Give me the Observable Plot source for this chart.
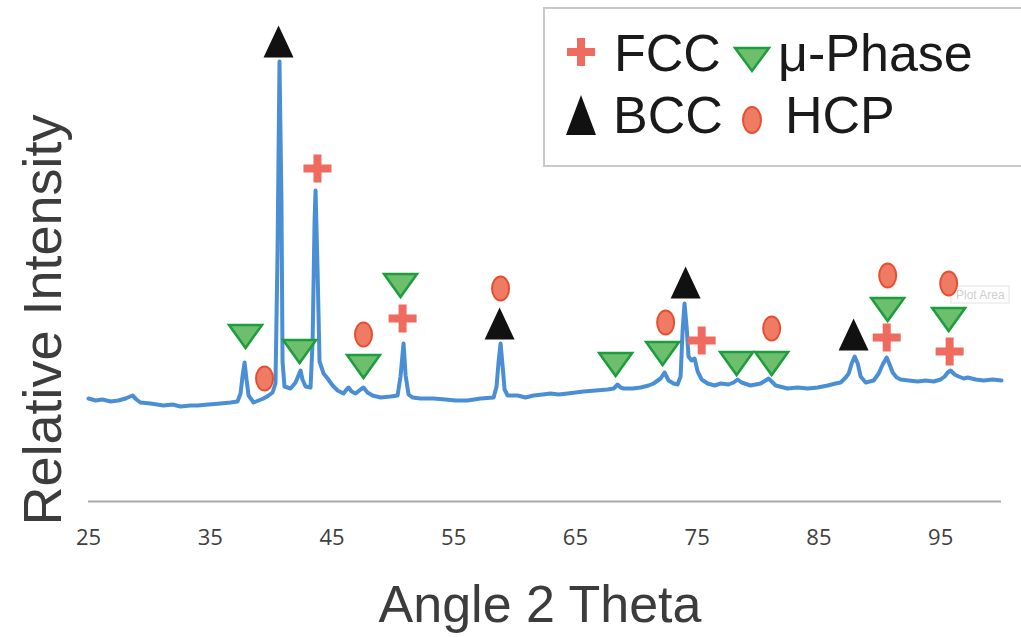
<!DOCTYPE html>
<html><head><meta charset="utf-8">
<script src="https://cdn.jsdelivr.net/npm/d3@7"></script>
<script src="https://cdn.jsdelivr.net/npm/@observablehq/plot@0.6"></script>
<style>
body{margin:0;background:#fff;overflow:hidden}
#wrap{position:relative;width:1021px;height:637px;overflow:hidden}
#wrap svg{position:absolute;left:0;top:0}
</style>
</head><body><div id="wrap"></div>
<script>
// ---- data: XRD pattern (angle 2θ, relative intensity a.u.) ----
const angle = [25.00,25.58,26.15,26.81,27.46,28.04,28.62,28.94,29.27,30.09,31.16,31.90,32.56,33.38,33.96,34.86,35.85,36.67,37.24,37.49,37.65,37.82,37.98,38.15,38.56,38.97,39.38,39.79,40.12,40.36,40.53,40.69,40.85,40.94,41.10,41.60,42.01,42.25,42.42,42.58,42.83,43.24,43.41,43.57,43.65,43.82,43.98,44.31,44.64,45.05,45.46,45.95,46.20,46.36,46.61,46.94,47.35,47.59,47.92,48.33,48.99,49.81,50.39,50.63,50.88,51.05,51.29,51.62,52.28,53.35,54.33,55.15,56.14,57.21,58.28,58.52,58.69,58.85,59.02,59.18,59.43,60.25,60.90,61.56,62.30,62.96,63.62,64.36,65.01,65.67,66.66,67.64,68.14,68.46,68.71,68.96,69.70,70.35,71.01,71.42,72.00,72.32,72.65,73.06,73.39,73.64,73.80,73.96,74.13,74.29,74.54,74.79,75.04,75.37,75.86,76.43,76.93,77.58,77.99,78.32,78.65,79.39,80.21,80.62,80.87,81.12,81.45,82.43,83.25,84.08,84.90,85.72,86.38,86.79,87.20,87.45,87.69,87.94,88.19,88.43,88.84,89.17,89.50,89.91,90.24,90.57,90.81,91.06,91.39,91.72,92.37,93.11,93.77,94.43,95.00,95.33,95.58,95.82,96.15,96.48,96.89,97.22,97.88,98.54,99.27,100.00];
const intensity = [103,101,102,100,101,103,106,102,99,98,96,97,95,96,96,97,98,99,100,108,125,139,122,106,99,101,103,106,109,118,250,440,300,140,115,113,119,126,131,122,115,114,160,280,311,230,140,128,123,116,111,108,112,114,110,108,112,114,109,106,104,105,106,125,158,126,107,104,103,103,102,101,101,103,104,115,140,158,135,112,106,106,104,106,107,108,107,108,109,110,111,112,113,117,114,113,113,114,116,118,123,129,121,118,117,125,170,198,175,145,141,143,130,122,118,116,118,117,119,122,119,116,118,121,123,120,116,113,114,113,114,116,118,119,124,128,138,145,138,125,119,120,121,128,137,144,137,129,124,122,121,120,121,120,122,125,129,131,127,125,123,124,122,121,122,121];

const xTicks = [25,35,45,55,65,75,85,95];
const phases = ["FCC", "μ-Phase", "BCC", "HCP"];

// peak markers (angle, height of marker)
const fccAngle = [43.81,50.80,75.37,90.57,95.74];
const fccHeight = [333,183,161,164,150];
const muAngle = [37.90,42.34,47.59,50.63,68.30,72.16,78.24,81.12,90.65,95.66];
const muHeight = [165,150,135,216,137,148,138,138,192,182];
const bccAngle = [40.61,58.77,74.05,87.85];
const bccHeight = [460,178,219,167];
const hcpAngle = [39.46,47.59,58.85,72.41,81.12,90.65,95.66];
const hcpHeight = [123,167,213,179,173,226,218];

// ---- symbols ----
const triUp = (w,h) => ({draw(c){c.moveTo(0,-h/2);c.lineTo(w/2,h/2);c.lineTo(-w/2,h/2);c.closePath();}});
const triDown = (w,h) => ({draw(c){c.moveTo(-w/2,-h/2);c.lineTo(w/2,-h/2);c.lineTo(0,h/2);c.closePath();}});
const plusSym = (s,t) => ({draw(c){const a=s/2,b=t/2;
  c.moveTo(-b,-a);c.lineTo(b,-a);c.lineTo(b,-b);c.lineTo(a,-b);c.lineTo(a,b);c.lineTo(b,b);
  c.lineTo(b,a);c.lineTo(-b,a);c.lineTo(-b,b);c.lineTo(-a,b);c.lineTo(-a,-b);c.lineTo(-b,-b);c.closePath();}});
const ellSym = (rx,ry) => ({draw(c){const k=0.5523;
  c.moveTo(rx,0);
  c.bezierCurveTo(rx,ry*k,rx*k,ry,0,ry);
  c.bezierCurveTo(-rx*k,ry,-rx,ry*k,-rx,0);
  c.bezierCurveTo(-rx,-ry*k,-rx*k,-ry,0,-ry);
  c.bezierCurveTo(rx*k,-ry,rx,-ry*k,rx,0);c.closePath();}});

const style = {
  "FCC":     {fill:"#ef6a5f", stroke:"none", sw:0},
  "μ-Phase": {fill:"#6dbf6d", stroke:"#1d9d3d", sw:2.5},
  "BCC":     {fill:"#111111", stroke:"none", sw:0},
  "HCP":     {fill:"#f07b65", stroke:"#e54f2f", sw:2}
};

const pattern = angle.map((a,i)=>({angle:a, intensity:intensity[i]}));
const pts = (xs,ys) => xs.map((x,i)=>({angle:x, h:ys[i]}));

const chart = Plot.plot({
  width: 1021, height: 637,
  marginLeft: 88, marginRight: 20, marginTop: 0, marginBottom: 136,
  style: {background:"transparent", fontFamily:"'Open Sans', sans-serif"},
  x: {domain:[25,100]},
  y: {domain:[0,501], axis:null},
  marks: [
    Plot.ruleY([0], {stroke:"#a7a7ad", strokeWidth:2}),
    Plot.axisX({ticks:xTicks, tickSize:0, tickPadding:28, fontSize:22, fill:"#404040", label:null, fontFamily:"'Open Sans', sans-serif"}),
    Plot.line(pattern, {x:"angle", y:"intensity", stroke:"#4a8fd5", strokeWidth:4, strokeLinejoin:"round"}),
    Plot.dot(pts(muAngle,muHeight), {x:"angle", y:"h", symbol:triDown(33,23), fill:style["μ-Phase"].fill, stroke:style["μ-Phase"].stroke, strokeWidth:2.5}),
    Plot.dot(pts(fccAngle,fccHeight), {x:"angle", y:"h", symbol:plusSym(28,8), fill:style["FCC"].fill, stroke:"none"}),
    Plot.dot(pts(bccAngle,bccHeight), {x:"angle", y:"h", symbol:triUp(30,32), fill:style["BCC"].fill, stroke:"none"}),
    Plot.dot(pts(hcpAngle,hcpHeight), {x:"angle", y:"h", symbol:ellSym(8.5,12), fill:style["HCP"].fill, stroke:style["HCP"].stroke, strokeWidth:2})
  ]
});

const wrap = d3.select("#wrap");
// faint "Plot Area" tooltip artifact (behind chart)
const under = wrap.append("svg").attr("width",1021).attr("height",637);
under.append("rect").attr("x",951).attr("y",286).attr("width",58).attr("height",17).attr("fill","#fff").attr("stroke","#e2e2e2");
under.append("text").attr("x",956).attr("y",299).attr("font-family","'Liberation Sans', Arial, sans-serif").attr("font-size",12).attr("fill","#cfcfcf").text("Plot Area");

wrap.node().appendChild(chart);

const ov = wrap.append("svg").attr("width",1021).attr("height",637).style("pointer-events","none");
const ff = "'Liberation Sans', Arial, Helvetica, sans-serif";
ov.append("text").attr("transform","translate(61,320) rotate(-90)").attr("text-anchor","middle")
  .attr("font-family",ff).attr("font-size",54).attr("fill","#3c3c3c").text("Relative Intensity");
ov.append("text").attr("x",540).attr("y",622).attr("text-anchor","middle")
  .attr("font-family",ff).attr("font-size",52).attr("fill","#3c3c3c").text("Angle 2 Theta");

// legend
ov.append("rect").attr("x",544).attr("y",8).attr("width",520).attr("height",158)
  .attr("fill","#fff").attr("stroke","#c9c9c9").attr("stroke-width",2);
const legendSym = {"FCC":plusSym(28,8), "μ-Phase":triDown(34,23), "BCC":triUp(30,40), "HCP":ellSym(9,13)};
const legendPos = [[581,52,614,71],[752,59.5,778,71],[581,115,613,133],[752,120,785,133]];
phases.forEach((p,i)=>{
  const [cx,cy,tx,ty] = legendPos[i];
  ov.append("path").attr("d", d3.symbol(legendSym[p])()).attr("transform",`translate(${cx},${cy})`)
    .attr("fill",style[p].fill).attr("stroke",style[p].stroke).attr("stroke-width",style[p].sw);
  ov.append("text").attr("x",tx).attr("y",ty).attr("font-family",ff).attr("font-size",52)
    .attr("fill","#1a1a1a").text(p);
});
</script></body></html>
